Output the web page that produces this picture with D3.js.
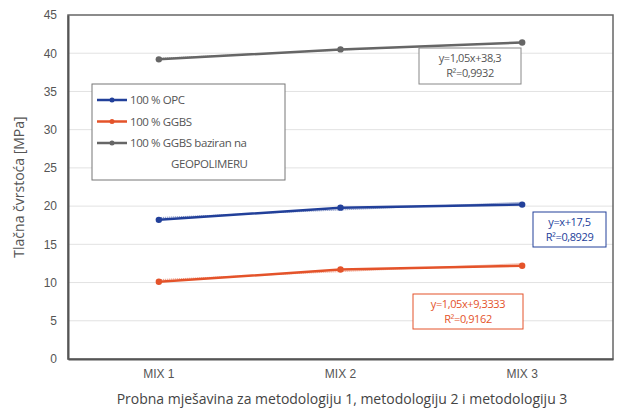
<!DOCTYPE html>
<html>
<meta charset="utf-8">
<title>Tlačna čvrstoća</title>
<style>
html, body { margin: 0; background: #fff; }
svg { display: block; font-family: "Open Sans", "DejaVu Sans", sans-serif; }
.grid line { stroke: #e2e2e2; }
.axis text { fill: #555; font-size: 12px; }
.axis path, .axis line { stroke: #555; }
</style>
<svg></svg>
<script src="https://d3js.org/d3.v7.min.js"></script>
<script>

var categories = ["MIX 1", "MIX 2", "MIX 3"];
var opcValues = [18.2, 19.8, 20.2];
var ggbsValues = [10.1, 11.7, 12.2];
var geoValues = [39.2, 40.5, 41.4];
var yTicks = [0, 5, 10, 15, 20, 25, 30, 35, 40, 45];
var seriesNames = ["100 % OPC", "100 % GGBS", "100 % GGBS baziran na"];
var trendLabels = [
  ["y=x+17,5", "R²=0,8929"],
  ["y=1,05x+9,3333", "R²=0,9162"],
  ["y=1,05x+38,3", "R²=0,9932"]
];
var trendCoef = [[1, 17.5], [1.05, 9.3333], [1.05, 38.3]];

var colors = ["#22409a", "#e4532a", "#666666"];
var series = [opcValues, ggbsValues, geoValues];

var svg = d3.select("svg").attr("width", 624).attr("height", 410);
var margin = {top: 15, right: 11, bottom: 51, left: 68},
    width = 624 - margin.left - margin.right,
    height = 410 - margin.top - margin.bottom;

var x = d3.scaleBand().domain(categories).range([0, width]),
    y = d3.scaleLinear().domain([0, 45]).range([height, 0]);
function cx(c) { return x(c) + x.bandwidth() / 2; }

var g = svg.append("g").attr("transform", "translate(" + margin.left + "," + margin.top + ")");

// grid
g.append("g").attr("class", "grid")
  .selectAll("line").data(yTicks.slice(1, -1)).enter().append("line")
  .attr("x1", 0).attr("x2", width)
  .attr("y1", function(d) { return y(d); }).attr("y2", function(d) { return y(d); });

// frame
g.append("rect").attr("width", width).attr("height", height)
  .attr("fill", "none").attr("stroke", "#666").attr("stroke-width", 1.5);

g.append("g").attr("class", "axis")
  .attr("transform", "translate(0," + height + ")")
  .call(d3.axisBottom(x).tickSize(0).tickPadding(10))
  .call(function(a) { a.select(".domain").attr("stroke-width", 2); });

g.append("g").attr("class", "axis")
  .call(d3.axisLeft(y).tickValues(yTicks).tickSize(0).tickPadding(11))
  .call(function(a) { a.select(".domain").attr("stroke-width", 2); });

// series
var line = d3.line().x(function(d, i) { return cx(categories[i]); }).y(function(d) { return y(d); });
series.forEach(function(vals, k) {
  // trend line, thin
  var t = trendCoef[k];
  g.append("line")
    .attr("x1", cx(categories[0])).attr("x2", cx(categories[2]))
    .attr("y1", y(t[0] * 1 + t[1])).attr("y2", y(t[0] * 3 + t[1]))
    .attr("stroke", colors[k]).attr("stroke-width", 1).attr("stroke-dasharray", "1,1").attr("opacity", 0.7);
  g.append("path").datum(vals)
    .attr("fill", "none").attr("stroke", colors[k]).attr("stroke-width", 2.5)
    .attr("d", line);
  g.selectAll(".pt" + k).data(vals).enter().append("circle")
    .attr("cx", function(d, i) { return cx(categories[i]); })
    .attr("cy", function(d) { return y(d); })
    .attr("r", 3.2).attr("fill", colors[k]);
});

// trend equation boxes
var boxes = [
  {x: 533, y: 212, w: 73, h: 35},
  {x: 413, y: 294, w: 110, h: 35},
  {x: 419, y: 48, w: 102, h: 36}
];
boxes.forEach(function(b, k) {
  var bg = svg.append("g");
  bg.append("rect").attr("x", b.x).attr("y", b.y).attr("width", b.w).attr("height", b.h)
    .attr("fill", "#fff").attr("stroke", k == 2 ? "#888" : colors[k]).attr("stroke-width", 1);
  trendLabels[k].forEach(function(s, j) {
    bg.append("text").attr("x", b.x + b.w / 2).attr("y", b.y + 13.5 + j * 15.5)
      .attr("text-anchor", "middle").attr("font-size", 11).attr("letter-spacing", -0.4)
      .attr("fill", k == 2 ? "#555" : colors[k]).text(s);
  });
});

// legend
var lg = svg.append("g");
lg.append("rect").attr("x", 92).attr("y", 84).attr("width", 193).attr("height", 96)
  .attr("fill", "#fff").attr("stroke", "#777").attr("stroke-width", 1);
seriesNames.forEach(function(n, k) {
  var yy = 100 + k * 21.5;
  lg.append("line").attr("x1", 97).attr("x2", 127).attr("y1", yy).attr("y2", yy)
    .attr("stroke", colors[k]).attr("stroke-width", 2.5);
  lg.append("circle").attr("cx", 112).attr("cy", yy).attr("r", 2.5).attr("fill", colors[k]);
  lg.append("text").attr("x", 130).attr("y", yy + 4).attr("font-size", 11.5)
    .attr("letter-spacing", -0.4).attr("fill", "#555").text(n);
});
lg.append("text").attr("x", 171).attr("y", 168).attr("font-size", 11.5)
  .attr("letter-spacing", -0.4).attr("fill", "#555").text("GEOPOLIMERU");

// axis titles
svg.append("text").attr("transform", "translate(24," + (margin.top + height / 2) + ") rotate(-90)")
  .attr("text-anchor", "middle").attr("font-size", 14).attr("fill", "#555")
  .text("Tlačna čvrstoća [MPa]");
svg.append("text").attr("x", 342).attr("y", 404)
  .attr("text-anchor", "middle").attr("font-size", 14).attr("fill", "#444")
  .text("Probna mješavina za metodologiju 1, metodologiju 2 i metodologiju 3");

</script>
</html>
